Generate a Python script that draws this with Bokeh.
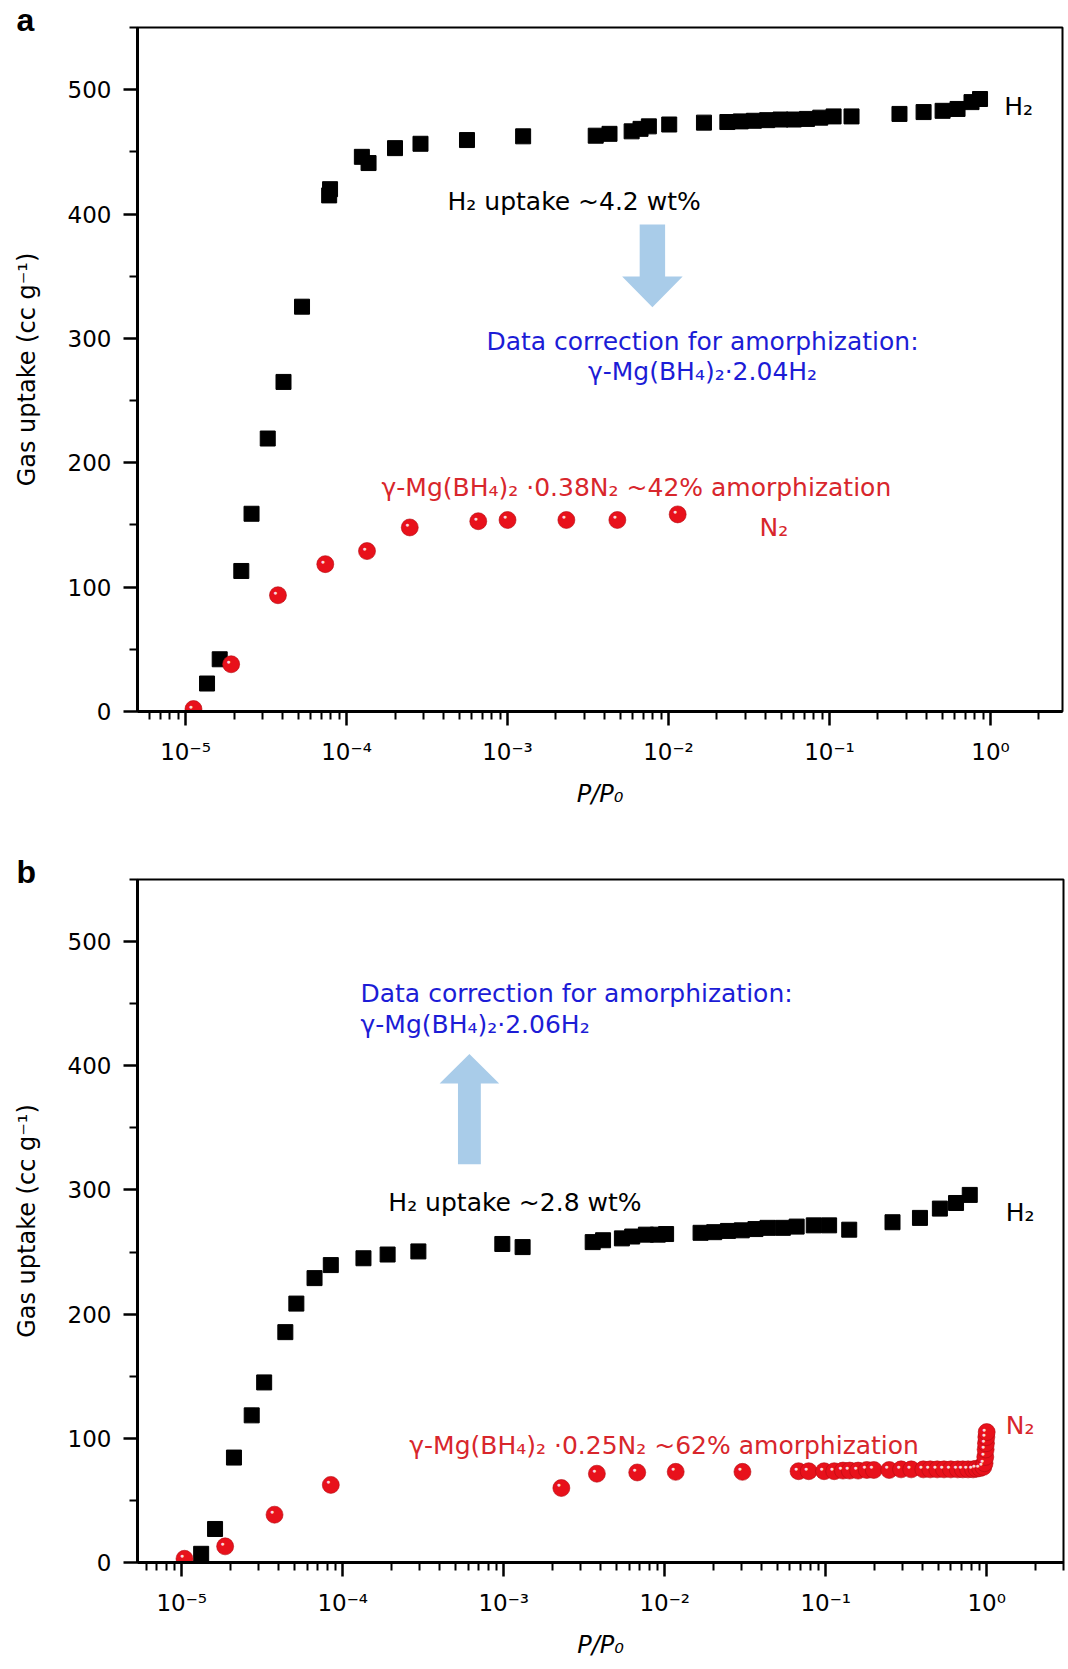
import numpy as np
from bokeh.plotting import figure
from bokeh.models import FixedTicker, CustomJSTickFormatter, Label, ColumnDataSource
from bokeh.layouts import column
from bokeh.embed import file_html
from bokeh.resources import INLINE
from bokeh.core.properties import value

# ---------------- data ----------------
# panel a
a_h2_x = [1.36e-5, 1.63e-5, 2.22e-5, 2.57e-5, 3.24e-5, 4.06e-5, 5.29e-5, 7.8e-5, 7.9e-5,
          1.245e-4, 1.37e-4, 2.0e-4, 2.88e-4, 5.6e-4, 1.25e-3, 3.53e-3, 4.3e-3, 5.9e-3,
          6.7e-3, 7.55e-3, 1.01e-2, 1.66e-2, 0.0232, 0.0281, 0.0339, 0.041, 0.0496, 0.06,
          0.0725, 0.0876, 0.106, 0.137, 0.272, 0.384, 0.504, 0.624, 0.762, 0.861]
a_h2_y = [22.5, 42, 113, 159, 219.5, 265, 325.5, 415, 420,
          446, 441, 453, 456.5, 459.5, 462.5, 463, 464.5, 466.5,
          468.5, 470.5, 472, 473.5, 474, 474.5, 475, 475.5, 476, 476,
          476.5, 477.5, 478.5, 478.5, 480.5, 482, 483, 484.5, 490, 492.5]
a_n2_x = [1.12e-5, 1.92e-5, 3.75e-5, 7.38e-5, 1.34e-4, 2.47e-4, 6.58e-4, 1.0e-3,
          2.32e-3, 4.81e-3, 1.14e-2]
a_n2_y = [2, 38, 93.5, 118.5, 129, 148, 153, 154, 154, 154, 158.5]

# panel b
b_h2_x = [1.32e-5, 1.61e-5, 2.11e-5, 2.72e-5, 3.25e-5, 4.4e-5, 5.15e-5, 6.68e-5, 8.43e-5,
          1.345e-4, 1.9e-4, 2.95e-4, 9.8e-4, 1.31e-3, 3.57e-3, 4.14e-3, 5.42e-3, 6.28e-3,
          7.64e-3, 9.06e-3, 1.02e-2, 1.67e-2, 2.03e-2, 2.47e-2, 3.01e-2, 3.66e-2, 4.35e-2,
          5.42e-2, 6.6e-2, 8.43e-2, 0.105, 0.14, 0.26, 0.385, 0.512, 0.645, 0.785]
b_h2_y = [7, 27, 84.5, 118.5, 145, 185.5, 208.5, 229, 239.5,
          245, 248, 250.5, 256.5, 254, 258, 259.5, 261, 262.5,
          264, 264, 264.5, 265.5, 266, 267, 267.5, 268.5, 269.5,
          269.5, 270.5, 271.5, 271.5, 268, 274, 277.5, 285, 289.5, 296]
b_n2_x = [1.04e-5, 1.86e-5, 3.77e-5, 8.43e-5, 2.28e-3, 3.79e-3, 6.75e-3, 1.17e-2, 3.04e-2,
          0.0678, 0.0784, 0.0977, 0.113, 0.128, 0.141, 0.159, 0.18, 0.199, 0.248, 0.294,
          0.34, 0.404, 0.446, 0.493, 0.543, 0.599, 0.661, 0.711, 0.766, 0.823, 0.864,
          0.909, 0.953, 0.97, 0.98, 0.985, 0.99, 0.995, 1.0]
b_n2_y = [3, 13, 38.5, 62.5, 60, 71.5, 72.5, 73, 73,
          73.5, 73.5, 73.5, 73.5, 74, 74, 74, 74.5, 74.5, 74.5, 75,
          75, 75, 75, 75, 75, 75, 75, 75, 75, 75, 75.5,
          76, 77, 80, 85, 91, 96, 101, 105]

# axes
y_major = [0, 100, 200, 300, 400, 500]
y_minor = [50, 150, 250, 350, 450, 550]
x_major = [1e-5, 1e-4, 1e-3, 1e-2, 1e-1, 1e0]
x_minor = [m * 10.0 ** d for d in range(-6, 1) for m in range(2, 10)]

FONT = "DejaVu Sans"
BLUE = "#1c1cd6"
RED = "#d8262c"
ARROW = "#a9cce9"
SPHERE = "#e8111b"

LOG_FMT = """
const sup = {'-': '\\u207B', '0': '\\u2070', '1': '\\u00B9', '2': '\\u00B2', '3': '\\u00B3',
             '4': '\\u2074', '5': '\\u2075', '6': '\\u2076', '7': '\\u2077', '8': '\\u2078', '9': '\\u2079'};
const e = Math.round(Math.log10(tick));
return '10' + String(e).split('').map(c => sup[c]).join('');
"""


def make_panel(width, height, xr, mb_top, mb_bottom, mb_right, letter):
    p = figure(width=width, height=height, x_axis_type="log", x_range=xr, y_range=(0, 550),
               output_backend="svg", toolbar_location=None,
               min_border_left=137, min_border_right=mb_right,
               min_border_top=mb_top, min_border_bottom=mb_bottom)
    # panel letter as the figure title, pulled to the top-left corner
    p.title.text = letter
    p.title.align = "left"
    p.title.offset = -121
    p.title.standoff = -20
    p.title.text_font = "Liberation Sans"
    p.title.text_font_style = "bold"
    p.title.text_font_size = "32px"
    p.title.text_color = "black"
    p.grid.visible = False
    p.outline_line_color = "black"
    p.outline_line_width = 2
    p.outline_line_alpha = 1
    for ax in (p.xaxis[0], p.yaxis[0]):
        ax.axis_line_width = 3
        ax.axis_line_color = "black"
        ax.major_tick_line_width = 2.5
        ax.minor_tick_line_width = 2
        ax.major_tick_line_color = "black"
        ax.minor_tick_line_color = "black"
        ax.major_tick_in = 0
        ax.major_tick_out = 14
        ax.minor_tick_in = 0
        ax.minor_tick_out = 8
        ax.major_label_text_font = FONT
        ax.major_label_text_font_size = "23px"
        ax.major_label_text_color = "black"
        ax.axis_label_text_font = FONT
        ax.axis_label_text_font_size = "24px"
        ax.axis_label_text_color = "black"
    p.yaxis.major_label_standoff = 12
    p.xaxis.major_label_standoff = 13
    p.yaxis.ticker = FixedTicker(ticks=y_major, minor_ticks=y_minor)
    p.xaxis.ticker = FixedTicker(ticks=x_major, minor_ticks=x_minor)
    p.xaxis.formatter = CustomJSTickFormatter(code=LOG_FMT)
    p.yaxis.axis_label = "Gas uptake (cc g\u207B\u00B9)"
    p.yaxis.axis_label_text_font_style = "normal"
    p.yaxis.axis_label_standoff = 24
    p.xaxis.axis_label = "P/P\u2080"
    p.xaxis.axis_label_text_font_style = "italic"
    p.xaxis.axis_label_standoff = 12
    return p


def spheres(p, xs, ys):
    src = ColumnDataSource(dict(x=xs, y=ys))
    p.scatter("x", "y", source=src, marker="circle", size=17, fill_color=SPHERE,
              line_color="#b30c12", line_width=0.6)
    p.text("x", "y", source=src, text=value("\u25CF"), text_color="white", text_alpha=0.85,
           text_font_size="7px", text_align="center", text_baseline="middle",
           x_offset=-2.5, y_offset=-3)


def squares(p, xs, ys):
    p.scatter(xs, ys, marker="square", size=15, fill_color="black", line_color="black")


def block_arrow(p, xc, y_tail, y_base, y_tip, half_shaft_dec, half_head_dec):
    f1 = 10 ** half_shaft_dec
    f2 = 10 ** half_head_dec
    xs = [xc / f1, xc * f1, xc * f1, xc * f2, xc, xc / f2, xc / f1]
    ys = [y_tail, y_tail, y_base, y_base, y_tip, y_base, y_base]
    p.patch(xs, ys, fill_color=ARROW, line_color=None)


def txt(p, x, y, text, color, align="left", size="25px"):
    p.add_layout(Label(x=x, y=y, text=text, text_color=color, text_font=FONT,
                       text_font_size=size, text_align=align, text_baseline="alphabetic"))


# ---------------- panel a ----------------
pa = make_panel(1066, 834, (5.03e-6, 2.80), 27, 123, 4, "a")
block_arrow(pa, 7.94e-3, 391.6, 349.7, 325.0, 0.079, 0.188)
squares(pa, a_h2_x, a_h2_y)
spheres(pa, a_n2_x, a_n2_y)
txt(pa, 4.24e-4, 410, "H\u2082 uptake ~4.2 wt%", "black")
txt(pa, 0.01626, 297.7, "Data correction for amorphization:", BLUE, "center")
txt(pa, 0.01626, 273.4, "\u03B3-Mg(BH\u2084)\u2082\u00B72.04H\u2082", BLUE, "center")
txt(pa, 1.65e-4, 180, "\u03B3-Mg(BH\u2084)\u2082 \u00B70.38N\u2082 ~42% amorphization", RED)
txt(pa, 0.0367, 148, "N\u2082", RED)
txt(pa, 1.215, 486.4, "H\u2082", "black")

# ---------------- panel b ----------------
pb = make_panel(1067, 834, (5.31e-6, 3.0), 45, 106, 2, "b")
block_arrow(pb, 6.12e-4, 320.7, 385.8, 409.5, 0.071, 0.185)
squares(pb, b_h2_x, b_h2_y)
spheres(pb, b_n2_x, b_n2_y)
txt(pb, 1.289e-4, 458.6, "Data correction for amorphization:", BLUE)
txt(pb, 1.289e-4, 433.6, "\u03B3-Mg(BH\u2084)\u2082\u00B72.06H\u2082", BLUE)
txt(pb, 1.92e-4, 289.6, "H\u2082 uptake ~2.8 wt%", "black")
txt(pb, 1.312, 281.6, "H\u2082", "black")
txt(pb, 2.59e-4, 94, "\u03B3-Mg(BH\u2084)\u2082 \u00B70.25N\u2082 ~62% amorphization", RED)
txt(pb, 1.312, 110, "N\u2082", RED)

layout = column(pa, pb, spacing=0)
with open("out.html", "w", encoding="utf-8") as f:
    f.write(file_html(layout, INLINE))
